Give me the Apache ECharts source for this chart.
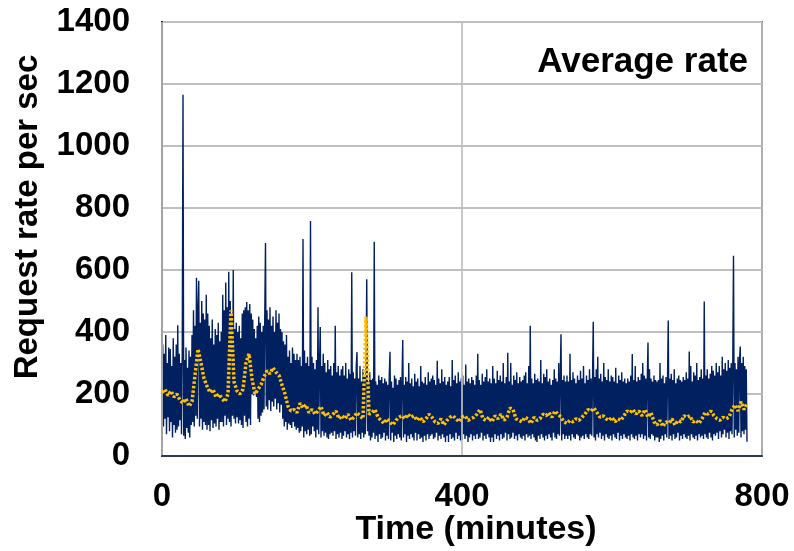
<!DOCTYPE html>
<html>
<head>
<meta charset="utf-8">
<script src="https://cdn.jsdelivr.net/npm/echarts@6/dist/echarts.min.js"></script>
<style>
html,body{margin:0;padding:0;background:#fff;}
#chart{width:794px;height:551px;}
</style>
</head>
<body>
<div id="chart"></div>
<script>
// Raw request rate, one sample per minute, starting at minute 0
const RAW_STEP = 1;
const rawRate = [
  180,360,95,330,120,390,70,300,125,350,80,345,110,290,60,380,100,320,75,360,
  85,422,95,330,115,300,70,340,1165,65,310,55,350,90,285,75,340,60,320,100,
  390,110,470,95,420,130,575,120,480,565,95,430,120,500,85,460,110,440,100,520,
  85,460,100,420,80,380,115,440,90,360,105,410,95,390,120,430,85,370,110,400,
  110,520,95,470,130,560,100,480,120,594,110,500,95,460,130,600,120,410,105,430,
  125,400,105,420,115,380,100,460,90,470,130,480,110,497,95,470,120,490,100,460,
  200,440,195,410,205,380,190,420,120,450,110,430,130,400,140,420,150,450,687,160,
  470,150,440,180,480,145,420,175,450,160,400,185,470,150,430,170,460,140,410,165,
  400,120,370,95,360,110,390,85,320,105,340,100,300,90,350,110,330,95,310,85,
  330,90,310,75,320,80,290,95,700,60,340,80,300,70,320,85,290,65,758,70,
  320,95,300,80,280,60,310,85,480,70,290,416,60,290,80,330,65,300,75,270,
  60,310,55,280,70,290,75,260,65,300,80,420,55,270,70,290,60,260,75,280,
  55,290,65,260,80,300,60,250,70,280,55,265,75,593,60,270,80,250,65,290,
  335,60,250,70,290,55,240,75,280,60,255,70,260,570,80,240,65,270,50,245,
  60,250,75,691,55,240,65,230,45,260,70,245,55,255,60,235,75,250,50,240,
  65,230,55,260,336,50,240,75,220,45,260,65,250,55,230,70,245,60,255,50,
  240,374,60,230,70,255,45,240,65,300,55,235,70,250,60,225,50,265,75,240,
  50,250,70,225,55,290,60,240,45,235,65,255,50,230,70,270,55,240,65,250,
  70,260,55,245,60,230,75,307,50,250,65,235,55,280,70,240,60,255,45,230,
  65,240,45,255,70,225,55,310,60,245,50,260,75,235,55,270,65,240,50,250,
  50,260,70,230,55,295,65,240,45,250,60,235,70,255,50,245,65,230,55,260,
  70,330,55,245,60,230,75,265,50,240,65,255,55,280,70,240,60,250,45,235,
  60,290,45,250,70,235,55,275,65,245,50,260,70,240,55,300,60,235,75,255,
  50,333,70,240,55,300,60,230,75,260,55,245,65,270,50,235,70,255,60,240,
  55,245,65,260,50,270,70,235,60,290,65,420,55,250,70,235,60,265,50,245,
  45,250,65,240,55,310,70,235,60,265,50,255,65,280,55,240,70,250,60,230,
  50,245,75,280,60,250,55,240,70,300,65,255,393,50,245,70,260,55,240,65,
  260,55,240,65,330,50,245,70,270,60,250,55,235,70,260,65,245,50,275,60,
  250,65,290,55,235,70,260,60,245,55,280,70,250,65,240,433,60,255,50,280,
  70,320,60,250,75,265,55,240,65,300,50,255,70,245,60,280,55,240,65,260,
  50,255,70,240,60,285,55,235,75,260,50,245,65,270,55,240,70,250,60,235,
  55,250,65,240,50,260,70,329,60,245,55,290,65,240,50,255,70,245,60,265,
  70,300,55,260,65,250,50,245,366,60,280,55,250,70,240,65,260,50,245,60,
  240,60,245,45,300,55,250,65,260,50,235,70,255,60,245,437,55,250,65,265,
  50,245,70,280,55,235,60,250,75,260,50,245,65,240,55,255,70,245,60,270,
  55,250,65,337,50,290,70,240,60,270,55,260,65,300,50,245,70,255,60,280,
  65,250,55,498,70,260,60,280,55,250,75,265,60,290,50,275,70,260,65,300,
  75,270,55,290,80,260,60,320,70,280,85,300,60,275,75,310,55,285,80,300,
  70,290,646,60,300,85,280,65,320,75,310,353,60,300,80,320,70,290,85,280,
  46
];

// Average rate, one value every AVG_STEP minutes, starting at minute 0
const AVG_STEP = 4;
const avgRate = [
  205, 215, 195, 210, 190, 200, 180, 170, 185, 160,
  175, 260, 345, 300, 250, 225, 205, 215, 190, 200,
  185, 175, 200, 470, 240, 210, 200, 215, 300, 330,
  250, 200, 215, 230, 255, 275, 265, 285, 270, 260,
  230, 200, 160, 145, 150, 140, 170, 155, 165, 140,
  150, 135, 145, 160, 130, 140, 125, 135, 145, 120,
  130, 120, 135, 115, 125, 140, 130, 120, 450, 135,
  140, 150, 125, 115, 105, 120, 110, 100, 115, 125,
  130, 120, 135, 125, 130, 115, 125, 110, 120, 135,
  125, 110, 105, 120, 100, 115, 125, 130, 120, 110,
  125, 130, 115, 120, 125, 135, 150, 120, 115, 125,
  110, 130, 120, 135, 115, 125, 155, 150, 120, 115,
  110, 125, 120, 105, 125, 115, 120, 135, 130, 140,
  125, 145, 135, 125, 110, 105, 115, 110, 120, 115,
  125, 135, 150, 145, 155, 140, 125, 130, 120, 115,
  125, 110, 120, 115, 130, 145, 140, 150, 135, 145,
  130, 150, 125, 140, 110, 100, 115, 95, 110, 105,
  120, 100, 115, 110, 130, 125, 130, 110, 115, 105,
  120, 140, 135, 145, 130, 120, 115, 125, 120, 125,
  150, 165, 145, 175, 150, 170
];

const xTicks = [0, 400, 800];
const yTicks = [0, 200, 400, 600, 800, 1000, 1200, 1400];
const xTitle = 'Time (minutes)';
const yTitle = 'Request rate per sec';
const seriesLabel = 'Average rate';

const rawData = rawRate.map((v, i) => [i * RAW_STEP, v]);
const avgData = avgRate.map((v, i) => [i * AVG_STEP, v]);

const FONT = "'Liberation Sans', Arial, sans-serif";
const chart = echarts.init(document.getElementById('chart'), null, {renderer: 'canvas'});
chart.setOption({
  animation: false,
  backgroundColor: '#ffffff',
  grid: {
    left: 162, right: 32, top: 22, bottom: 95,
    show: true, borderColor: '#1a1a1a', borderWidth: 1.5, backgroundColor: 'transparent'
  },
  xAxis: {
    type: 'value', min: xTicks[0], max: xTicks[xTicks.length - 1], interval: 400, z: 3,
    axisLine: {show: true, onZero: false, lineStyle: {color: '#2b3a5a', width: 2}},
    axisTick: {show: false},
    splitLine: {show: true, lineStyle: {color: 'rgba(190,190,190,0.85)', width: 2}},
    axisLabel: {color: '#000', fontFamily: FONT, fontWeight: 'bold', fontSize: 33, margin: 24,
      formatter: v => String(v)}
  },
  yAxis: {
    type: 'value', min: yTicks[0], max: yTicks[yTicks.length - 1], interval: 200,
    axisLine: {show: true, lineStyle: {color: '#000', width: 2}},
    axisTick: {show: false},
    splitLine: {show: true, lineStyle: {color: '#BFBFBF', width: 2}},
    axisLabel: {color: '#000', fontFamily: FONT, fontWeight: 'bold', fontSize: 33, margin: 32,
      formatter: v => String(v)}
  },
  series: [
    {
      type: 'line', data: rawData, showSymbol: false, z: 2, sampling: null,
      lineStyle: {color: '#002060', width: 1.4, join: 'bevel'}
    },
    {
      type: 'line', name: seriesLabel, data: avgData, showSymbol: false, z: 4,
      lineStyle: {color: '#FFC000', width: 3.5, type: [2.5, 2]}
    }
  ],
  graphic: [
    {
      type: 'text', x: 28, y: 217, rotation: Math.PI / 2,
      style: {text: yTitle, fill: '#000', font: 'bold 33px ' + FONT, textAlign: 'center', textVerticalAlign: 'middle'}
    },
    {
      type: 'text', x: 476, y: 530,
      style: {text: xTitle, fill: '#000', font: 'bold 34px ' + FONT, textAlign: 'center', textVerticalAlign: 'middle'}
    },
    {
      type: 'text', x: 748, y: 62,
      style: {text: seriesLabel, fill: '#000', font: 'bold 35px ' + FONT, textAlign: 'right', textVerticalAlign: 'middle'}
    }
  ]
});
</script>
</body>
</html>
